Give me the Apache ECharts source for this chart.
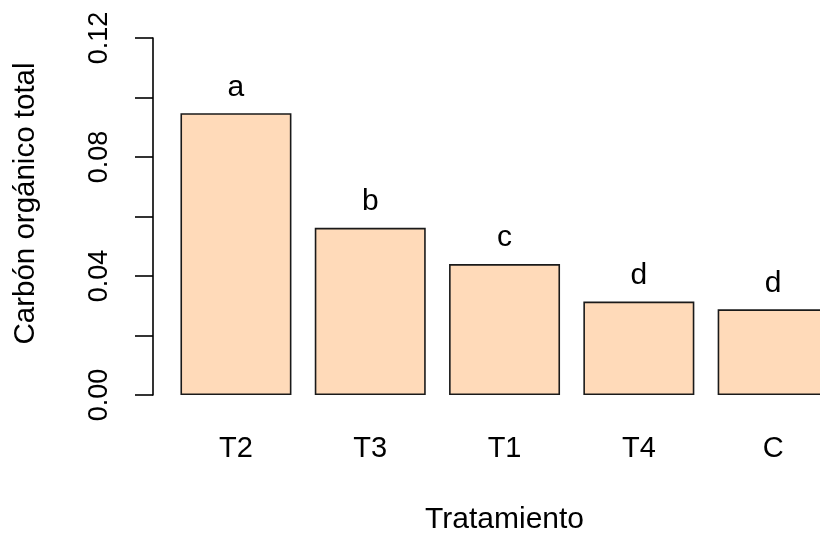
<!DOCTYPE html>
<html>
<head>
<meta charset="utf-8">
<script src="https://cdn.jsdelivr.net/npm/echarts@6/dist/echarts.min.js"></script>
<style>
  html, body { margin: 0; padding: 0; background: #ffffff; }
  #chart { width: 820px; height: 535px; }
</style>
</head>
<body>
<div id="chart"></div>
<script>
const categories = ['T2', 'T3', 'T1', 'T4', 'C'];
const values = [0.0947, 0.0562, 0.0440, 0.0314, 0.0288];
const groupLetters = ['a', 'b', 'c', 'd', 'd'];
const yTickLabels = ['0.00', '', '0.04', '', '0.08', '', '0.12'];

const FONT = '"Liberation Sans", Arial, sans-serif';
const chart = echarts.init(document.getElementById('chart'), null, { renderer: 'canvas' });

chart.setOption({
  animation: false,
  backgroundColor: '#ffffff',
  grid: {
    left: 168.8, top: 38, width: 671.5, height: 357,
    containLabel: false, outerBoundsMode: 'none'
  },
  xAxis: {
    type: 'category',
    data: categories,
    axisLine: { show: false },
    axisTick: { show: false },
    axisLabel: { color: '#000', fontFamily: FONT, fontSize: 29, margin: 39 },
    name: 'Tratamiento',
    nameLocation: 'middle',
    nameGap: 110,
    nameTextStyle: { color: '#000', fontFamily: FONT, fontSize: 30 }
  },
  yAxis: {
    type: 'value',
    min: 0,
    max: 0.12,
    interval: 0.02,
    offset: 15.8,
    axisLine: { show: true, lineStyle: { color: '#000', width: 1.6 } },
    axisTick: { show: true, length: 18, lineStyle: { color: '#000', width: 1.6 } },
    splitLine: { show: false },
    axisLabel: {
      rotate: 90,
      margin: 40,
      color: '#000',
      fontFamily: FONT,
      fontSize: 27,
      formatter: function (v, i) { return yTickLabels[i] || ''; }
    },
    name: 'Carbón orgánico total',
    nameLocation: 'middle',
    nameGap: 112,
    nameRotate: 90,
    nameTextStyle: { color: '#000', fontFamily: FONT, fontSize: 29.5, padding: [0, 0, 0, 26] }
  },
  series: [{
    type: 'bar',
    data: values,
    barWidth: 111,
    itemStyle: { color: '#FFDAB9', borderColor: '#1a1a1a', borderWidth: 1.6 },
    label: {
      show: true,
      position: 'top',
      distance: 11,
      color: '#000',
      fontFamily: FONT,
      fontSize: 30,
      formatter: function (p) { return groupLetters[p.dataIndex]; }
    }
  }]
});
</script>
</body>
</html>
